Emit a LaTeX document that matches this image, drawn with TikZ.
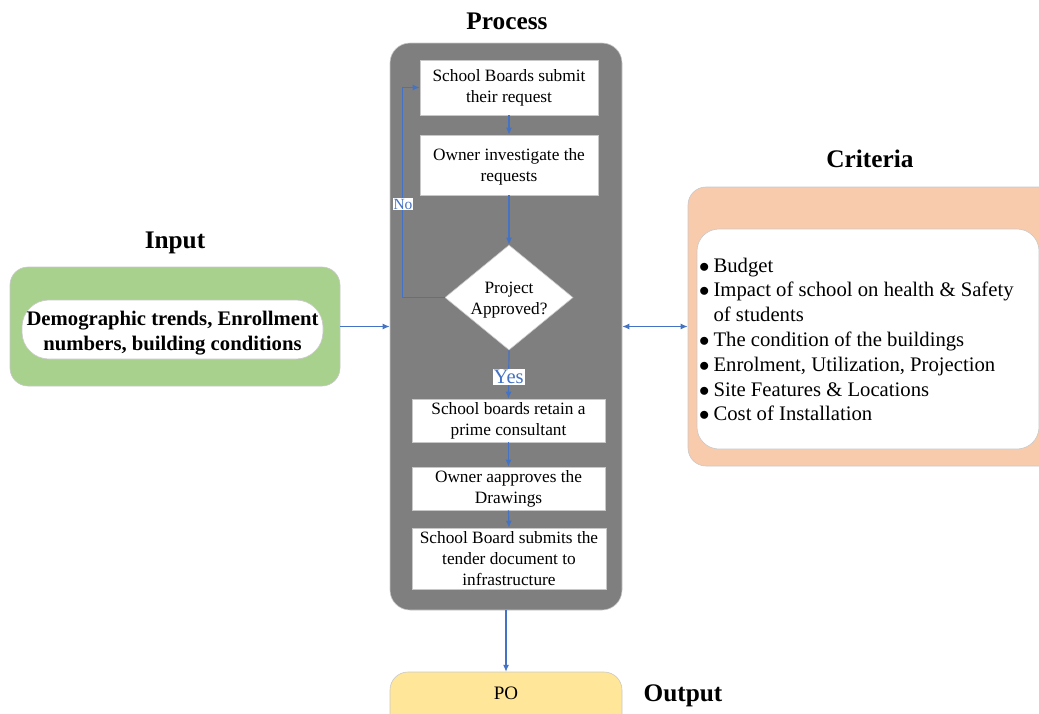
\documentclass[tikz,border=0pt]{standalone}
\usepackage{fontspec}
\setmainfont{Liberation Serif}
\usetikzlibrary{arrows.meta,shapes.geometric}

\definecolor{procgray}{HTML}{7F7F7F}
\definecolor{flowblue}{HTML}{4472C4}
\definecolor{inpgreen}{HTML}{A9D18E}
\definecolor{critorange}{HTML}{F8CBAD}
\definecolor{outyellow}{HTML}{FFE699}
\definecolor{edgegray}{HTML}{C8C8C8}

\tikzset{
  title/.style={font=\fontsize{25.3}{30}\selectfont\bfseries, inner sep=0pt},
  stepbox/.style={draw=edgegray, line width=0.6pt, fill=white, align=center,
    inner sep=0pt, font=\fontsize{17.3}{20.8}\selectfont},
  steptext/.style={align=center, inner sep=0pt, font=\fontsize{17.3}{20.8}\selectfont},
  decision/.style={diamond, aspect=1.22, draw=edgegray, line width=0.6pt, fill=white,
    inner sep=0pt, minimum width=128pt, minimum height=105pt},
  arr/.style={draw=flowblue, line width=1.2pt, -{Latex[length=7pt,width=6pt]}},
  darr/.style={draw=flowblue, line width=1.2pt, {Latex[length=7pt,width=6pt]}-{Latex[length=7pt,width=6pt]}},
  flowlab/.style={fill=white, text=flowblue, inner sep=1pt},
  panel/.style={draw=edgegray, line width=0.6pt, rounded corners=18pt, inner sep=0pt},
}
\newcommand{\critdot}{$\bullet$}

\begin{document}
\begin{tikzpicture}[x=1pt,y=-1pt]
\useasboundingbox (0,0) rectangle (1039,713);

% titles
\node[title] (tproc) at (507,21) {Process};
\node[title] (tinp) at (175,243) {Input};
\node[title] (tcrit) at (870,159) {Criteria};
\node[title] (tout) at (683,696) {Output};

% process container
\node[panel, fill=procgray, minimum width=232pt, minimum height=567pt, rounded corners=20pt] (proc) at (506,326.5) {};

% process steps
\node[stepbox, minimum width=178pt, minimum height=55pt] (b1) at (509,87.5) {School Boards submit\\their request};
\node[stepbox, minimum width=178pt, minimum height=60pt] (b2) at (509,165) {};
\node[steptext] (b2txt) at (509,167) {Owner investigate the\\requests};
\node[decision] (dec) at (509,297.5) {};
\node[steptext] (dectxt) at (509,300.5) {Project\\Approved?};
\node[stepbox, minimum width=193pt, minimum height=43pt] (b3) at (508.5,420.5) {School boards retain a\\prime consultant};
\node[stepbox, minimum width=193pt, minimum height=43pt] (b4) at (508.5,488.5) {Owner aapproves the\\Drawings};
\node[stepbox, minimum width=194pt, minimum height=61pt] (b5) at (509,558.5) {School Board submits the\\tender document to\\infrastructure};

% flow inside the process
\draw[arr] (b1.south) -- (b2.north);
\draw[arr] (b2.south) -- (dec.north);
\draw[arr] (dec.west) -- ++(-42,0) |- (b1.west);
\node[flowlab, font=\fontsize{15.5}{18}\selectfont] (nolab) at (403,204) {No};
\draw[arr] (dec.south) -- node[flowlab, pos=0.55, font=\fontsize{20.6}{24}\selectfont] (yeslab) {Yes} (b3.north);
\draw[arr] (b3.south) -- (b4.north);
\draw[arr] (b4.south) -- (b5.north);

% input panel
\node[panel, fill=inpgreen, minimum width=330pt, minimum height=119pt] (inp) at (175,326.5) {};
\node[draw=edgegray, line width=0.6pt, fill=white, rounded corners=27pt, minimum width=301pt, minimum height=59pt,
  inner sep=0pt] (inpbox) at (172.5,329.5) {};
\node[inner sep=0pt, align=center, font=\fontsize{20.7}{25}\selectfont\bfseries] (inptxt) at (172.5,333.5)
  {Demographic trends, Enrollment\\numbers, building conditions};

% criteria panel
\node[panel, fill=critorange, minimum width=372pt, minimum height=279pt] (crit) at (874,326.5) {};
\node[draw=edgegray, line width=0.6pt, fill=white, rounded corners=22pt, minimum width=342pt, minimum height=220pt,
  inner sep=0pt] (critbox) at (868,339) {};
\node[anchor=west, inner sep=0pt, font=\fontsize{20.7}{24.8}\selectfont] (critlist) at (699,341.5) {%
  \begin{tabular}{@{}l@{\hspace{4pt}}l@{}}
  \critdot & Budget\\
  \critdot & Impact of school on health \& Safety\\
           & of students\\
  \critdot & The condition of the buildings\\
  \critdot & Enrolment, Utilization, Projection\\
  \critdot & Site Features \& Locations\\
  \critdot & Cost of Installation
  \end{tabular}};

% output
\fill[outyellow, draw=edgegray, line width=0.6pt, rounded corners=18pt] (390,672) rectangle (622,740);
\node[inner sep=0pt, minimum width=232pt, minimum height=42pt, font=\fontsize{19}{22}\selectfont] (po) at (506,693) {PO};

% connectors between panels
\draw[arr] (inp.east) -- (proc.west);
\draw[darr] (proc.east) -- (crit.west);
\draw[arr] (proc.south) -- (po.north);
\end{tikzpicture}
\end{document}
